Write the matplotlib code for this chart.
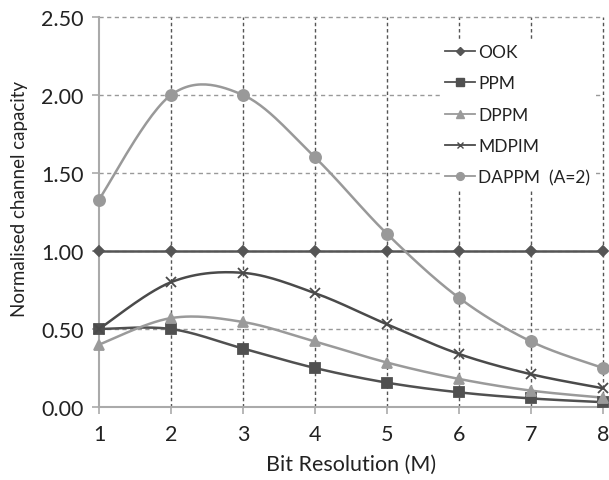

# normalised channel capacity vs bit resolution

import matplotlib
matplotlib.use('Agg')
from matplotlib.pyplot import subplots, close
import numpy as n

## data
bit_res = [1, 2, 3, 4, 5, 6, 7, 8]
ook = [1.00, 1.00, 1.00, 1.00, 1.00, 1.00, 1.00, 1.00]
ppm = [0.500, 0.500, 0.375, 0.250, 0.156, 0.094, 0.055, 0.031]
dppm = [0.40, 0.57, 0.545, 0.42, 0.285, 0.18, 0.105, 0.06]
mdpim = [0.50, 0.80, 0.86, 0.73, 0.53, 0.34, 0.21, 0.12]
dappm = [1.33, 2.00, 2.00, 1.60, 1.11, 0.70, 0.42, 0.25]

y_ticks = [0.0, 0.5, 1.0, 1.5, 2.0, 2.5]
y_tick_lab = ['0.00', '0.50', '1.00', '1.50', '2.00', '2.50']


## excel-like smooth line (bezier through the points)
def smooth(_x, _y, num=30):
	x, y = n.asarray(_x, float), n.asarray(_y, float)
	px = n.concatenate(([x[0]], x, [x[-1]]))
	py = n.concatenate(([y[0]], y, [y[-1]]))
	t = n.linspace(0., 1., num)
	xs, ys = [], []
	for i in range(1, len(px) - 2):
		p0 = n.array([px[i], py[i]])
		p3 = n.array([px[i+1], py[i+1]])
		p1 = p0 + (n.array([px[i+1], py[i+1]]) - n.array([px[i-1], py[i-1]])) / 6.
		p2 = p3 - (n.array([px[i+2], py[i+2]]) - n.array([px[i], py[i]])) / 6.
		b = ((1-t)**3)[:, None]*p0 + (3*(1-t)**2*t)[:, None]*p1 + (3*(1-t)*t**2)[:, None]*p2 + (t**3)[:, None]*p3
		xs.append(b[:, 0]); ys.append(b[:, 1])
	return n.concatenate(xs), n.concatenate(ys)


fs = 15.5
fnt = 'Lato'

fig, ax = subplots(figsize=(6.09, 4.81), dpi=100.)
ax.set_position([99/609, 1-408/481, 504/609, 390/481])

## grid
for xv in bit_res[1:]:
	ax.axvline(xv, color='#555555', lw=1., ls=(0, (2.5, 2.)), zorder=1, clip_on=False)
for yv in y_ticks[1:]:
	ax.axhline(yv, color='#999999', lw=1., ls=(0, (3., 2.5)), zorder=1, clip_on=False)

## series
series = [
	('OOK', ook, '#555555', 'D', 5.5),
	('PPM', ppm, '#505050', 's', 7.5),
	('DPPM', dppm, '#9a9a9a', '^', 7.5),
	('MDPIM', mdpim, '#4a4a4a', 'x', 7.),
	('DAPPM  (A=2)', dappm, '#999999', 'o', 8.),
]
handles = []
for nam, val, c, mk, ms in series:
	sx, sy = smooth(bit_res, val)
	ax.plot(sx, sy, color=c, lw=1.8, zorder=3, clip_on=False)
	ax.plot(bit_res, val, ls='none', marker=mk, ms=ms, color=c, mec=c, mew=1.3, zorder=4, clip_on=False)
	h, = ax.plot([], [], color=c, lw=1.3, marker=mk, ms=ms*0.7, mec=c, mew=1.)
	handles.append(h)

ax.set(xlim=(1, 8), ylim=(0, 2.5), xticks=bit_res, yticks=y_ticks)
ax.set_yticklabels(y_tick_lab)

for s in ['top', 'right']:
	ax.spines[s].set_visible(False)
for s in ['left', 'bottom']:
	ax.spines[s].set_color('#aaaaaa')
	ax.spines[s].set_linewidth(1.5)

ax.tick_params(which='major', direction='out', length=5., color='#aaaaaa', width=1.2, labelsize=fs, labelcolor='#222222')
ax.tick_params(axis='y', pad=6.)
ax.tick_params(axis='x', pad=7.)
for lab in ax.get_xticklabels() + ax.get_yticklabels():
	lab.set_family(fnt)

ax.set_xlabel('Bit Resolution (M)', fontsize=15.5, family=fnt, labelpad=7., color='#222222')
ax.set_ylabel('Normalised channel capacity', fontsize=13.5, family=fnt, color='#222222')
ax.yaxis.set_label_coords(-0.14, 0.535)

lg = ax.legend(handles=handles, labels=[s[0] for s in series], loc='upper left',
			   bbox_to_anchor=(440/609, 1-40/481), bbox_transform=fig.transFigure,
			   frameon=True, fancybox=False, framealpha=1., edgecolor='none',
			   prop={'family': fnt, 'size': 12.5}, labelspacing=0.88, handlelength=1.7,
			   handletextpad=0.2, borderpad=0.3, borderaxespad=0.)
lg.set_zorder(5)
for t in lg.get_texts():
	t.set_color('#222222')

fig.savefig('out.png', dpi=100.)
close()
